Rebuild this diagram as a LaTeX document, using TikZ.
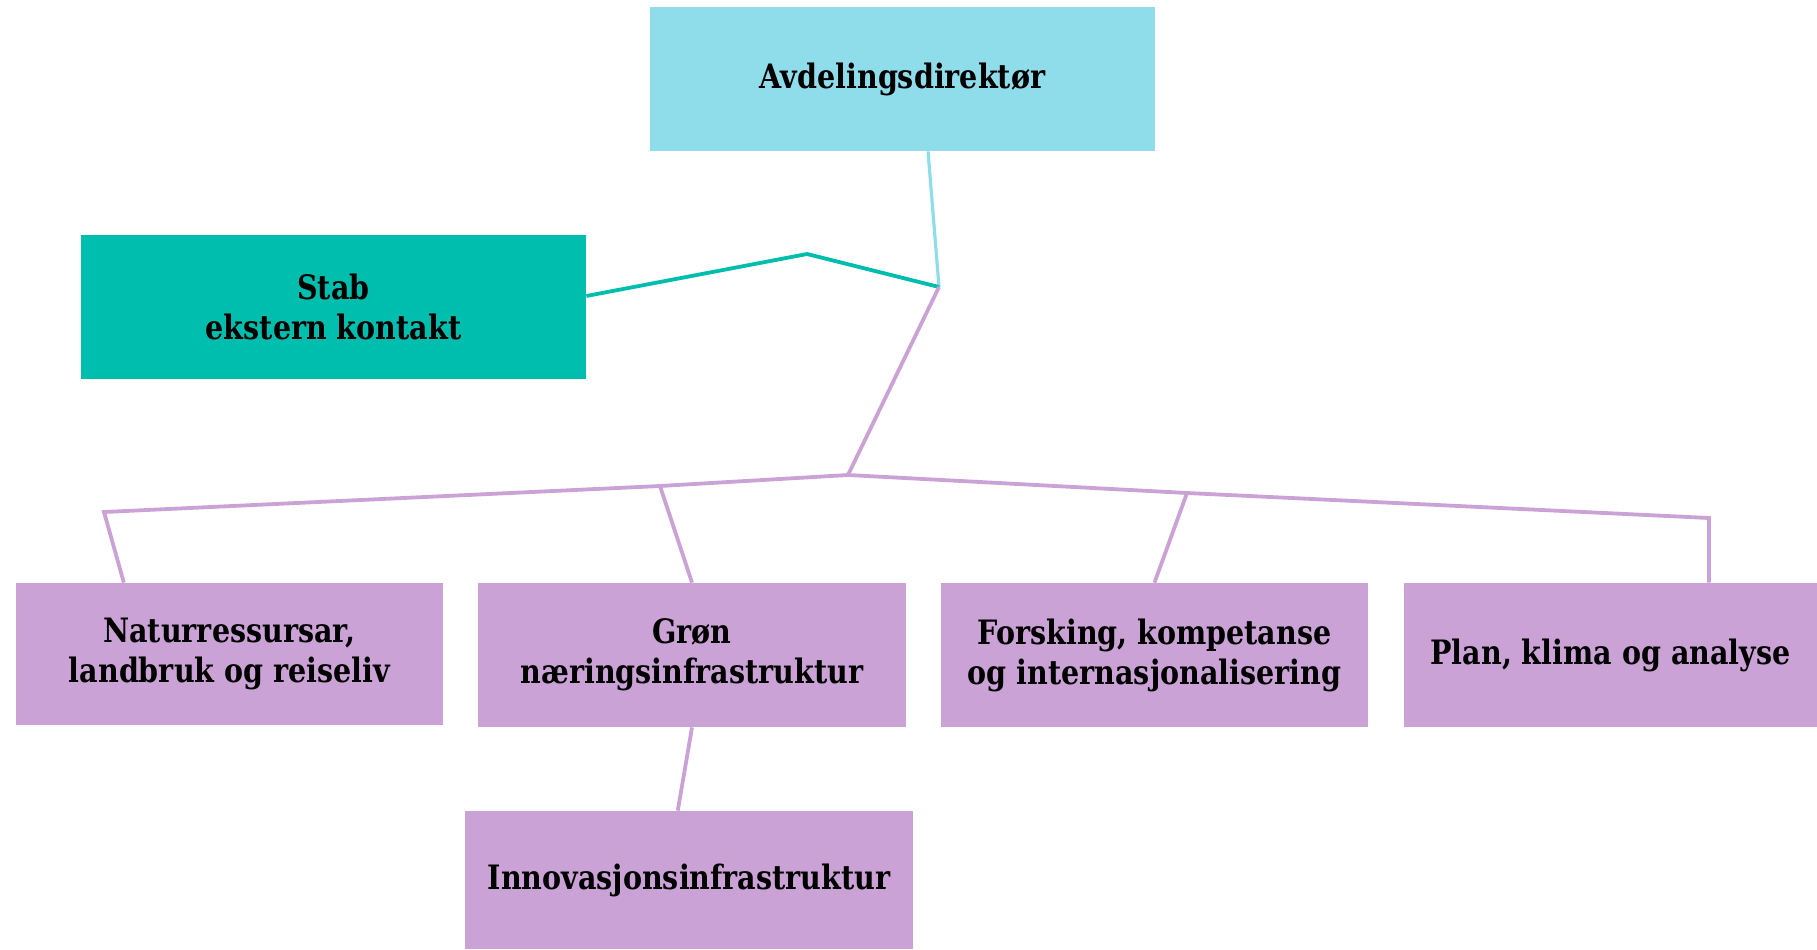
\documentclass[tikz,border=0pt]{standalone}
\usepackage{fontspec}
\setmainfont{DejaVu Serif}[FakeStretch=0.85]
\usetikzlibrary{calc}
\definecolor{dirblue}{RGB}{143,220,235}
\definecolor{stabteal}{RGB}{0,190,174}
\definecolor{unitpurple}{RGB}{203,162,214}
\def\u{0.5pt}
\newcommand{\oneline}[1]{\raisebox{-1.8pt}{#1}}
\begin{document}
\begin{tikzpicture}[x=0.5pt,y=-0.5pt,
  box/.style={draw=none,inner sep=0pt,align=center,font=\fontsize{16.8}{20}\selectfont\bfseries,text=black},
  link/.style={line width=1.9pt,line join=miter}]
\useasboundingbox (0,0) rectangle (1817,949);
\node[box,fill=dirblue,minimum width=505*\u,minimum height=144*\u] (dir) at (902.5,79) {\oneline{Avdelingsdirektør}};
\node[box,fill=stabteal,minimum width=505*\u,minimum height=144*\u] (stab) at (333.5,307) {Stab\\ekstern kontakt};
\node[box,fill=unitpurple,minimum width=427*\u,minimum height=142*\u] (nat) at (229.5,654) {Naturressursar,\\landbruk og reiseliv};
\node[box,fill=unitpurple,minimum width=428*\u,minimum height=144*\u] (gron) at (692,655) {Grøn\\næringsinfrastruktur};
\node[box,fill=unitpurple,minimum width=427*\u,minimum height=144*\u] (fors) at (1154.5,655) {Forsking, kompetanse\\og internasjonalisering};
\node[box,fill=unitpurple,minimum width=413*\u,minimum height=144*\u] (plan) at (1610.5,655) {\oneline{Plan, klima og analyse}};
\node[box,fill=unitpurple,minimum width=448*\u,minimum height=138*\u] (innov) at (689,880) {\oneline{Innovasjonsinfrastruktur}};
\coordinate (J) at (939,287);
\coordinate (H) at (848,475);
\coordinate (bl) at (660,486);
\coordinate (lend) at (104,512);
\coordinate (br) at (1187,493);
\coordinate (rend) at (1709,518);
\coordinate (tpeak) at (807,254);
\draw[link,draw=dirblue,line width=1.6pt] ($(dir.south west)!0.5505!(dir.south east)$) -- (J);
\draw[link,draw=stabteal] ($(stab.east)+(0,-11)$) -- (tpeak) -- (J);
\draw[link,draw=unitpurple] (J) -- (H);
\draw[link,draw=unitpurple] (H) -- (bl) -- (lend) -- ($(nat.north west)!0.253!(nat.north east)$);
\draw[link,draw=unitpurple] (bl) -- (gron.north);
\draw[link,draw=unitpurple] (H) -- (br) -- (rend) -- ($(plan.north west)!0.738!(plan.north east)$);
\draw[link,draw=unitpurple] (br) -- (fors.north);
\draw[link,draw=unitpurple] (gron.south) -- ($(innov.north west)!0.475!(innov.north east)$);
\end{tikzpicture}
\end{document}
